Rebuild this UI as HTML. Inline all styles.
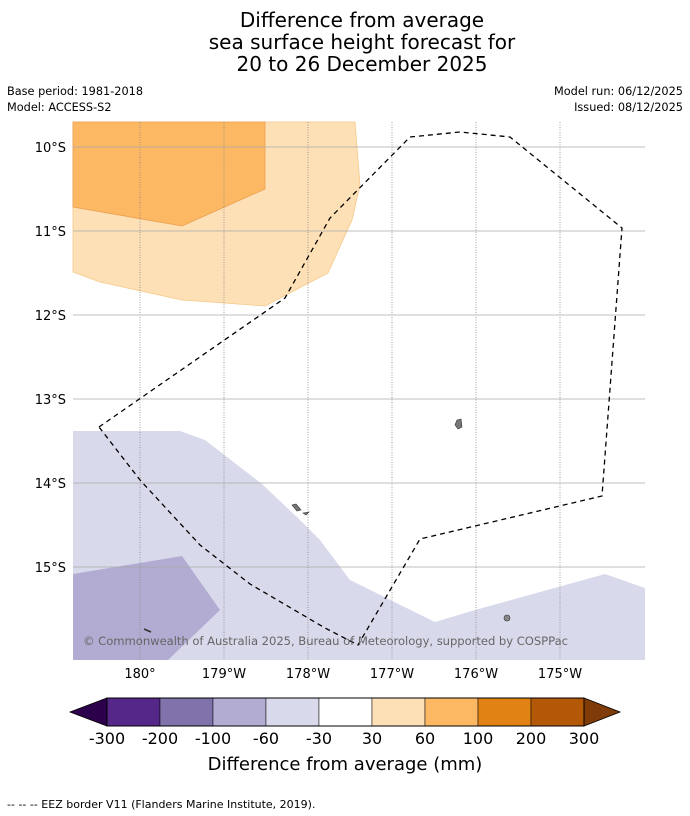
<!DOCTYPE html>
<html><head><meta charset="utf-8"><style>
body{margin:0;background:#fff;font-family:"DejaVu Sans","Liberation Sans",sans-serif;}
#wrap{position:relative;width:690px;height:816px;overflow:hidden}
.t{position:absolute;white-space:nowrap}
</style></head><body>
<div id="wrap">
<div class="t" style="left:0;width:724px;top:9px;text-align:center;font-size:20px;line-height:22px;">Difference from average<br>sea surface height forecast for<br>20 to 26 December 2025</div>
<div class="t" style="left:7px;top:84px;font-size:11.3px;line-height:16px">Base period: 1981-2018<br>Model: ACCESS-S2</div>
<div class="t" style="right:7px;top:84px;font-size:11.3px;line-height:16px;text-align:right">Model run: 06/12/2025<br>Issued: 08/12/2025</div>
<svg id="map" width="690" height="816" style="position:absolute;left:0;top:0">
<polygon points="73,122 355,122 360,185 352,220 328,273 265,306 182,300 100,282 73,272" fill="#fee0b6" stroke="#f5c98a" stroke-width="0.8"/>
<polygon points="73,122 265,122 265,189 182,226 73,207" fill="#fdb863" stroke="#e9a050" stroke-width="0.8"/>
<polygon points="73,431 180,431 205,440 262,484 300,520 320,540 350,580 435,622 475,610 605,574 645,588 645,660 73,660" fill="#d8daeb"/>
<polygon points="73,574 182,556 220,610 168,660 73,660" fill="#b2abd2"/>
<g id="grid"></g>
<polyline points="99,427 285,298 330,218 410,137 460,132 510,137 622,228 602,496 420,539 358,645 325,628 250,584 200,545 140,480 99,427" fill="none" stroke="#000" stroke-width="1.3" stroke-dasharray="5,4"/>
<path d="M457,420 L461,419 L462,427 L458,429 L455,425 Z" fill="#777" stroke="#333" stroke-width="0.6"/>
<path d="M292,505 L296,504 L301,510 L297,511 Z M303,513 L309,512 L306,515 Z" fill="#777" stroke="#333" stroke-width="0.6"/>
<circle cx="507" cy="618" r="3" fill="#888" stroke="#333" stroke-width="0.6"/>
<path d="M144,629 L151,632" stroke="#333" stroke-width="1.5"/>
<text x="83" y="645" font-size="11.6" fill="#666" font-family="DejaVu Sans, sans-serif" textLength="485">© Commonwealth of Australia 2025, Bureau of Meteorology, supported by COSPPac</text>
<g id="cbar"></g>
<text x="345" y="770" text-anchor="middle" font-size="18" font-family="DejaVu Sans, sans-serif">Difference from average (mm)</text>
<text x="7" y="808" font-size="11" font-family="DejaVu Sans, sans-serif">--  --  -- EEZ border V11 (Flanders Marine Institute, 2019).</text>
</svg>
</div>
<script>
const lonLabels=["180°","179°W","178°W","177°W","176°W","175°W"];
const lonValues=[180,181,182,183,184,185];
const latLabels=["10°S","11°S","12°S","13°S","14°S","15°S"];
const latValues=[10,11,12,13,14,15];
const cbLabels=["-300","-200","-100","-60","-30","30","60","100","200","300"];
const cbColors=["#542788","#8073ac","#b2abd2","#d8daeb","#ffffff","#fee0b6","#fdb863","#e08214","#b35806"];
const NS="http://www.w3.org/2000/svg";
const xLon=v=>140+(v-180)*84, yLat=v=>147+(v-10)*84;
const g=document.getElementById('grid');
function mk(tag,attrs,parent){const e=document.createElementNS(NS,tag);for(const k in attrs)e.setAttribute(k,attrs[k]);parent.appendChild(e);return e;}
lonValues.forEach((v,i)=>{const x=xLon(v);
 const l=mk('line',{x1:x,x2:x,y1:122,y2:660,stroke:'#888','stroke-width':0.8,'stroke-dasharray':'1,1.5'},g);
 
 
 const t=mk('text',{x:x,y:678,'text-anchor':'middle','font-size':13,'font-family':'DejaVu Sans, sans-serif'},g);t.textContent=lonLabels[i];
 
 
});
latValues.forEach((v,i)=>{const y=yLat(v);
 const l=mk('line',{x1:73,x2:645,y1:y,y2:y,stroke:'#aaa','stroke-width':0.8},g);
 
 
 const t=mk('text',{x:66,y:y+5,'text-anchor':'end','font-size':13,'font-family':'DejaVu Sans, sans-serif'},g);t.textContent=latLabels[i];
 
 
});
const c=document.getElementById('cbar');
const cx0=107,cw=53,cy=698,ch=28;
const la=mk('polygon',{points:`${cx0},${cy} ${cx0},${cy+ch} 70,${cy+ch/2}`,fill:'#2d004b',stroke:'#000','stroke-width':0.8},c);


cbColors.forEach((col,i)=>{const r=mk('rect',{x:cx0+i*cw,y:cy,width:cw,height:ch,fill:col,stroke:'#000','stroke-width':0.5},c);
 
 });
const xe=cx0+cbColors.length*cw;
const ra=mk('polygon',{points:`${xe},${cy} ${xe},${cy+ch} 620,${cy+ch/2}`,fill:'#7f3b08',stroke:'#000','stroke-width':0.8},c);


mk('rect',{x:cx0,y:cy,width:xe-cx0,height:ch,fill:'none',stroke:'#000','stroke-width':1},c);
cbLabels.forEach((s,i)=>{const t=mk('text',{x:cx0+i*cw,y:744,'text-anchor':'middle','font-size':16,'font-family':'DejaVu Sans, sans-serif'},c);t.textContent=s;
 
 });
</script>
</body></html>
